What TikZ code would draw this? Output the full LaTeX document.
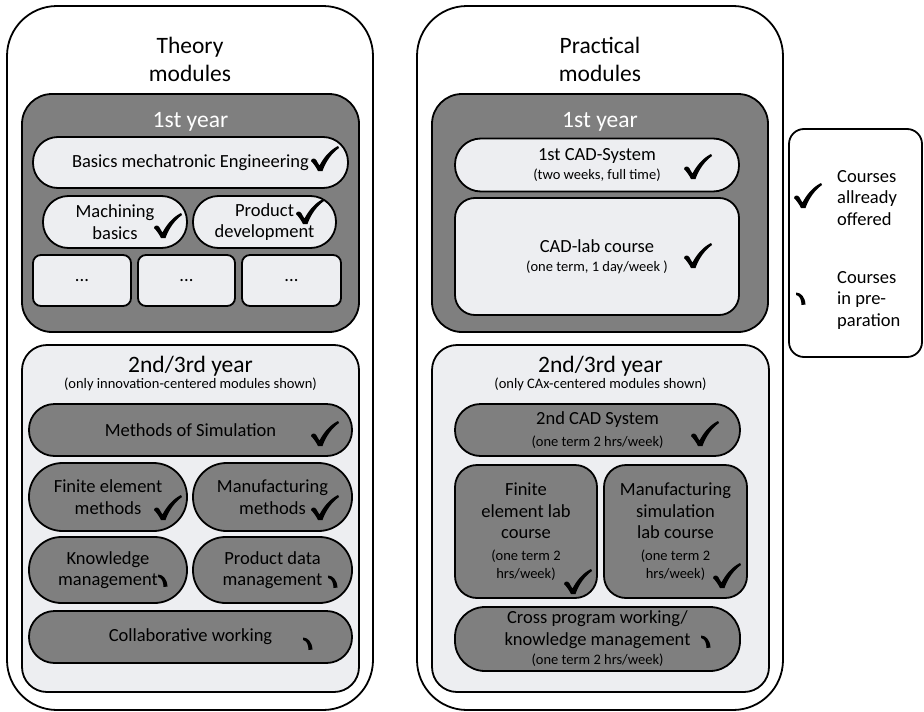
\documentclass[tikz,border=0pt]{standalone}
\usepackage{fontspec}
\setmainfont{Carlito}
\definecolor{dk}{RGB}{127,127,127}
\definecolor{lt}{RGB}{237,238,241}
\newcommand{\fT}{\fontsize{23.5}{28}\selectfont}
\newcommand{\fB}{\fontsize{18.5}{21.5}\selectfont}
\newcommand{\fS}{\fontsize{14.5}{17}\selectfont}
\tikzset{
 box/.style={draw=black, line width=1.8pt, inner sep=0pt, align=center, font=\fB, text=black},
 sz/.style 2 args={minimum width=#1, minimum height=#2},
 txt/.style={inner sep=0pt, align=center},
 chk/.pic={\fill[black] (-9,-9) .. controls (-8.5,-12) and (-5,-12.5) .. (-3.5,-9.5) .. controls (-2.5,-7.5) and (-1.5,-6) .. (-0.5,-4.5) .. controls (4,-13) and (10,-20) .. (18,-24) -- (19,-22) .. controls (12,-17) and (6,-9) .. (2.5,1) -- (-2,1) .. controls (-4,-3) and (-6.5,-6.5) .. (-9,-9) -- cycle;},
 prep/.pic={\fill[black] (-5,-5.5) .. controls (0,-5.5) and (4,-1) .. (4.5,6.5) -- (0.5,7) .. controls (0.5,1.5) and (-1.5,-2.5) .. (-5,-3) -- cycle;}
}
\begin{document}
\begin{tikzpicture}[x=1pt,y=-1pt]
\useasboundingbox (0,0) rectangle (924,712);
\fill[white] (0,0) rectangle (924,712);
% outer boxes
\node[box, fill=white, rounded corners=50, sz={366}{704}] (theory) at (190,358) {};
\node[box, fill=white, rounded corners=50, sz={366}{704}] (practical) at (600,358) {};
\node[box, fill=white, rounded corners=15, sz={133}{228}] (legend) at (855.5,243) {};
\node[txt, font=\fT] (ttitle) at (190,59) {Theory\\modules};
\node[txt, font=\fT] (ptitle) at (600,59) {Practical\\modules};

% ---------- Theory 1st year
\node[box, fill=dk, rounded corners=30, sz={337}{238}] (t1) at (190.5,213) {};
\node[txt, font=\fT, text=white] (t1lab) at (190.5,122) {1st year};
\node[box, fill=lt, rounded corners=25, sz={315}{51}] (basics) at (190.5,162.5) {Basics mechatronic Engineering};
\node[box, fill=lt, rounded corners=25.5, sz={144}{52}] (mach) at (115,222) {Machining\\basics};
\node[box, fill=lt, rounded corners=25.5, sz={143}{52}] (prod) at (264.5,222) {Product\\development};
\node[box, fill=lt, rounded corners=8, sz={98}{51}] (d1) at (82,280.5) {...};
\node[box, fill=lt, rounded corners=8, sz={97}{51}] (d2) at (186.5,280.5) {...};
\node[box, fill=lt, rounded corners=8, sz={99}{51}] (d3) at (291.5,280.5) {...};
\pic at (320,170) {chk};
\pic at (163,237) {chk};
\pic at (305,223) {chk};

% ---------- Theory 2nd/3rd year
\node[box, fill=lt, rounded corners=25, sz={337}{347}] (t2) at (190.5,518.5) {};
\node[txt, font=\fT] (t2lab) at (190.5,366) {2nd/3rd year};
\node[txt, font=\fS] (t2sub) at (190.5,384) {(only innovation-centered modules shown)};
\node[box, fill=dk, rounded corners=25.5, sz={323}{52}] (sim) at (190.5,430) {Methods of Simulation};
\node[box, fill=dk, rounded corners=33.5, sz={158}{68}] (fem) at (108,497) {Finite element\\methods};
\node[box, fill=dk, rounded corners=33.5, sz={159}{68}] (manm) at (272.5,497) {Manufacturing\\methods};
\node[box, fill=dk, rounded corners=32.5, sz={158}{66}] (know) at (108,570) {Knowledge\\management};
\node[box, fill=dk, rounded corners=32.5, sz={159}{66}] (pdm) at (272.5,570) {Product data\\management};
\node[box, fill=dk, rounded corners=25.5, sz={323}{52}] (coll) at (190.5,637) {Collaborative working};
\pic at (320,445) {chk};
\pic at (163,519) {chk};
\pic at (320,519) {chk};
\pic at (163,580) {prep};
\pic at (333,581) {prep};
\pic at (308,643) {prep};

% ---------- Practical 1st year
\node[box, fill=dk, rounded corners=30, sz={336}{238}] (p1) at (600,213) {};
\node[txt, font=\fT, text=white] (p1lab) at (600,122) {1st year};
\node[box, fill=lt, rounded corners=26, sz={284}{53}] (cad1) at (597,165) {1st CAD-System\\[-2pt]{\fS (two weeks, full time)}};
\node[box, fill=lt, rounded corners=20, sz={284}{117}] (cadlab) at (597,256.5) {CAD-lab course\\[-2pt]{\fS (one term, 1 day/week )}};
\pic at (693,178) {chk};
\pic at (693,267) {chk};

% ---------- Practical 2nd/3rd year
\node[box, fill=lt, rounded corners=25, sz={337}{347}] (p2) at (600.5,518.5) {};
\node[txt, font=\fT] (p2lab) at (600.5,366) {2nd/3rd year};
\node[txt, font=\fS] (p2sub) at (600.5,384) {(only CAx-centered modules shown)};
\node[box, fill=dk, rounded corners=25.5, sz={285}{52}] (cad2) at (597.5,430) {2nd CAD System\\[0.5pt]{\fS (one term 2 hrs/week)}};
\node[box, fill=dk, rounded corners=22, sz={142}{133}] (felab) at (526,531.5) {Finite\\element lab\\course\\{\fS (one term 2}\\[-3.5pt]{\fS hrs/week)}};
\node[box, fill=dk, rounded corners=22, sz={143}{133}] (msim) at (675.5,531.5) {Manufacturing\\simulation\\lab course\\{\fS (one term 2}\\[-3.5pt]{\fS hrs/week)}};
\node[box, fill=dk, rounded corners=30, sz={285}{64}] (cross) at (597.5,639) {Cross program working/\\knowledge management\\[-2pt]{\fS (one term 2 hrs/week)}};
\pic at (700,445) {chk};
\pic at (573,593) {chk};
\pic at (722,587) {chk};
\pic at (706,641) {prep};

% ---------- Legend
\pic at (803,207) {chk};
\pic at (801,298) {prep};
\node[txt, align=left, anchor=west, font=\fB] (l1) at (837,198) {Courses\\allready\\offered};
\node[txt, align=left, anchor=west, font=\fB] (l2) at (837,300) {Courses\\in pre-\\paration};
\end{tikzpicture}
\end{document}
